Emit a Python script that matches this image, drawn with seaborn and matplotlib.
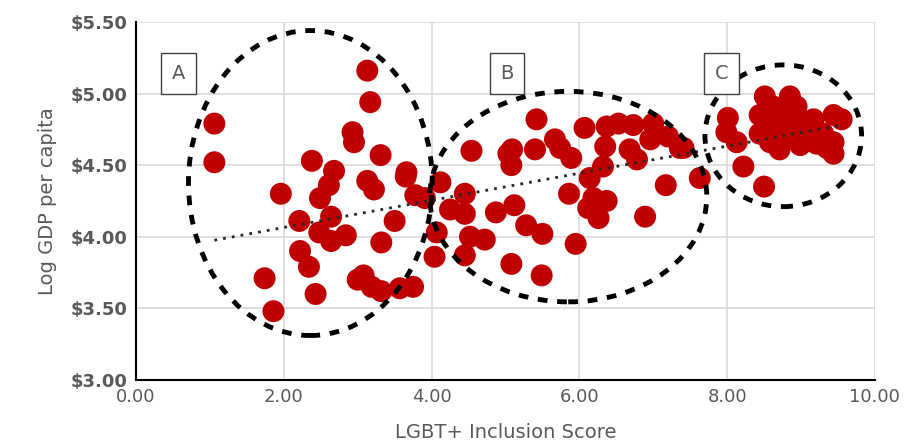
import numpy as np
import pandas as pd
import matplotlib
matplotlib.use("Agg")
import matplotlib.pyplot as plt
from matplotlib.patches import Ellipse
import seaborn as sns

# ---- data ----
inclusion_score = [
    1.06, 1.06, 1.74, 1.86, 1.96, 2.21, 2.22, 2.34, 2.38, 2.43, 2.48, 2.49, 2.61, 2.64, 2.64,
    2.68, 2.84, 2.93, 2.95, 3.00, 3.08, 3.13, 3.13, 3.17, 3.19, 3.22, 3.31, 3.32, 3.32, 3.50,
    3.57, 3.65, 3.66, 3.75, 3.78, 3.91, 4.04, 4.07, 4.12, 4.25,
    4.45, 4.45, 4.45, 4.52, 4.54, 4.72, 4.87, 5.04, 5.08, 5.08, 5.09, 5.12, 5.28, 5.40, 5.42,
    5.49, 5.50, 5.67, 5.74, 5.86, 5.89, 5.95, 6.07, 6.12, 6.14, 6.19, 6.26, 6.32, 6.35, 6.37,
    6.37, 6.53, 6.68, 6.73, 6.78, 6.89, 6.96, 7.00, 7.17, 7.20, 7.36, 7.41, 7.63,
    7.99, 8.01, 8.13, 8.22, 8.44, 8.44, 8.50, 8.51, 8.58, 8.62, 8.65, 8.71, 8.75, 8.80, 8.85,
    8.85, 8.90, 8.94, 8.96, 8.99, 9.05, 9.17, 9.21, 9.30, 9.35, 9.44, 9.44, 9.44, 9.55, 8.55,
    8.68,
]
log_gdp = [
    4.79, 4.52, 3.71, 3.48, 4.30, 4.11, 3.90, 3.79, 4.53, 3.60, 4.03, 4.27, 4.36, 4.14, 3.97,
    4.46, 4.01, 4.73, 4.66, 3.70, 3.73, 5.16, 4.39, 4.94, 3.65, 4.33, 4.57, 3.96, 3.62, 4.11,
    3.64, 4.42, 4.45, 3.65, 4.29, 4.27, 3.86, 4.03, 4.38, 4.19,
    4.30, 4.16, 3.87, 4.00, 4.60, 3.98, 4.17, 4.58, 4.50, 3.81, 4.61, 4.22, 4.08, 4.61, 4.82,
    3.73, 4.02, 4.68, 4.62, 4.30, 4.55, 3.95, 4.76, 4.20, 4.41, 4.27, 4.13, 4.49, 4.63, 4.77,
    4.25, 4.79, 4.61, 4.78, 4.54, 4.14, 4.68, 4.79, 4.36, 4.70, 4.62, 4.62, 4.41,
    4.73, 4.83, 4.66, 4.49, 4.85, 4.72, 4.35, 4.98, 4.66, 4.91, 4.80, 4.61, 4.70, 4.85, 4.98,
    4.75, 4.68, 4.91, 4.83, 4.64, 4.72, 4.82, 4.65, 4.72, 4.62, 4.85, 4.66, 4.58, 4.82, 4.77,
    4.88,
]

x_ticks = [0, 2, 4, 6, 8, 10]
x_tick_labels = ["0.00", "2.00", "4.00", "6.00", "8.00", "10.00"]
y_ticks = [3.0, 3.5, 4.0, 4.5, 5.0, 5.5]
y_tick_labels = ["$3.00", "$3.50", "$4.00", "$4.50", "$5.00", "$5.50"]

group_labels = ["A", "B", "C"]
group_label_pos = [(0.57, 5.14), (5.02, 5.14), (7.93, 5.14)]
ellipse_centers = [(2.36, 4.375), (5.85, 4.28), (8.76, 4.705)]
ellipse_sizes = [(3.30, 2.13), (3.75, 1.47), (2.12, 0.99)]

df = pd.DataFrame({"score": inclusion_score, "gdp": log_gdp})

# ---- plot ----
sns.set_style("white")
plt.rcParams["font.family"] = ["DejaVu Sans"]

fig = plt.figure(figsize=(9.19, 4.48), dpi=100)
ax = fig.add_axes([0.148, 0.152, 0.804, 0.799])

gray = "#595959"
ax.set_axisbelow(True)
ax.grid(True, color="#D9D9D9", linewidth=1.2)

sns.scatterplot(data=df, x="score", y="gdp", ax=ax, color="#C00000", s=250,
                edgecolor="none", linewidth=0, zorder=3, legend=False)
sns.regplot(data=df, x="score", y="gdp", ax=ax, scatter=False, ci=None, truncate=True,
            line_kws={"color": "#262626", "linestyle": (0, (1, 2.2)), "linewidth": 2.0, "zorder": 4})

for (cx, cy), (w, h) in zip(ellipse_centers, ellipse_sizes):
    ax.add_patch(Ellipse((cx, cy), w, h, fill=False, edgecolor="black", linewidth=3.5,
                         linestyle=(0, (2, 2)), zorder=5))

for lab, (lx, ly) in zip(group_labels, group_label_pos):
    ax.text(lx, ly, lab, ha="center", va="center", fontsize=14, color=gray, zorder=6,
            bbox=dict(boxstyle="square,pad=0.55", facecolor="white", edgecolor="#404040", linewidth=1))

ax.set_xlim(0, 10)
ax.set_ylim(3.0, 5.5)
ax.set_xticks(x_ticks)
ax.set_xticklabels(x_tick_labels)
ax.set_yticks(y_ticks)
ax.set_yticklabels([t.replace("$", r"\$") for t in y_tick_labels])
ax.tick_params(axis="both", labelsize=13, colors=gray, length=0, pad=6)
for lbl in ax.get_yticklabels():
    lbl.set_fontweight("semibold")

ax.set_xlabel("LGBT+ Inclusion Score", fontsize=14, color=gray, labelpad=12)
ax.set_ylabel("Log GDP per capita", fontsize=14, color=gray, labelpad=10)

for side in ["top", "right"]:
    ax.spines[side].set_visible(False)
for side in ["left", "bottom"]:
    ax.spines[side].set_color("black")
    ax.spines[side].set_linewidth(1.5)

fig.savefig("out.png", dpi=100, facecolor="white")
